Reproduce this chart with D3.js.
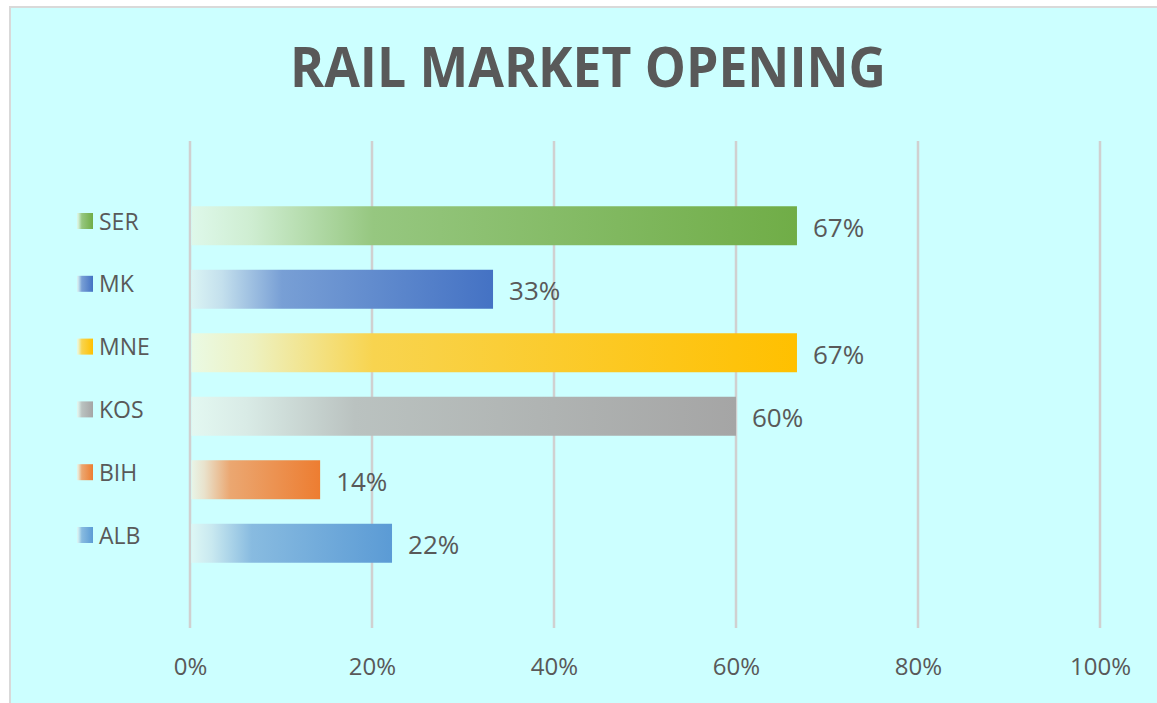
<!DOCTYPE html>
<html>
<head>
<meta charset="utf-8">
<script src="https://cdn.jsdelivr.net/npm/d3@7"></script>
<style>
  html, body { margin: 0; padding: 0; background: #ffffff; }
  svg { display: block; }
  text { font-family: "Open Sans", "DejaVu Sans", sans-serif; fill: #595959; }
</style>
</head>
<body>
<svg id="chart" width="1157" height="703"></svg>
<script>
// ---- data ----
const categories = ["SER", "MK", "MNE", "KOS", "BIH", "ALB"];
const values = [66.7, 33.3, 66.7, 60, 14.3, 22.2];
const valueLabels = ["67%", "33%", "67%", "60%", "14%", "22%"];
const colors = ["#70AD47", "#4472C4", "#FFC000", "#A5A5A5", "#ED7D31", "#5B9BD5"];
const tickValues = [0, 20, 40, 60, 80, 100];
const tickLabels = ["0%", "20%", "40%", "60%", "80%", "100%"];
const title = "RAIL MARKET OPENING";

const bg = "#CCFFFF";
const svg = d3.select("#chart");

// background panel with border
svg.append("rect")
  .attr("x", 10).attr("y", 7)
  .attr("width", 1160).attr("height", 710)
  .attr("fill", bg)
  .attr("stroke", "#D9D9D9")
  .attr("stroke-width", 2);

const x = d3.scaleLinear().domain([0, 100]).range([190, 1100]);
const y = d3.scaleBand().domain(categories).range([194, 575])
  .paddingInner(0.386).paddingOuter(0.193);
const legendY = d3.scalePoint().domain(categories).range([221, 535]);

// gradients (opaque, from background tint to full colour)
const defs = svg.append("defs");
categories.forEach((c, i) => {
  const g = defs.append("linearGradient")
    .attr("id", "grad" + i)
    .attr("x1", "0%").attr("x2", "100%").attr("y1", "0%").attr("y2", "0%");
  const mix = d3.interpolateRgb("#E8FFF8", colors[i]);
  [[0, 0.08], [0.1, 0.22], [0.3, 0.68], [1, 1]].forEach(([o, a]) => {
    g.append("stop").attr("offset", o).attr("stop-color", mix(a));
  });
});

// gridlines
svg.append("g")
  .selectAll("line")
  .data(tickValues)
  .join("line")
  .attr("x1", d => x(d)).attr("x2", d => x(d))
  .attr("y1", 141).attr("y2", 628)
  .attr("stroke", "#D0D0D0")
  .attr("stroke-width", 2.5);

// bars
svg.append("g")
  .selectAll("rect")
  .data(categories)
  .join("rect")
  .attr("x", x(0) + 1.5)
  .attr("y", d => y(d))
  .attr("width", (d, i) => x(values[i]) - x(0) - 1.5)
  .attr("height", y.bandwidth())
  .attr("fill", (d, i) => `url(#grad${i})`);

// value labels
svg.append("g")
  .selectAll("text")
  .data(categories)
  .join("text")
  .attr("x", (d, i) => x(values[i]) + 16)
  .attr("y", d => y(d) + y.bandwidth() / 2 + 11)
  .attr("font-size", 26)
  .text((d, i) => valueLabels[i]);

// x axis
const xAxis = d3.axisBottom(x).tickValues(tickValues)
  .tickFormat((d, i) => tickLabels[i]).tickSize(0).tickPadding(0);
const ax = svg.append("g").attr("transform", "translate(0,655)").call(xAxis);
ax.select(".domain").remove();
ax.selectAll("text")
  .attr("font-size", 24)
  .attr("font-family", "'Open Sans', sans-serif")
  .attr("fill", "#595959")
  .attr("dy", "0.85em");

// legend
const lg = svg.append("g");
lg.selectAll("rect")
  .data(categories)
  .join("rect")
  .attr("x", 77).attr("y", d => legendY(d) - 8)
  .attr("width", 16).attr("height", 16)
  .attr("fill", (d, i) => `url(#grad${i})`);
lg.selectAll("text")
  .data(categories)
  .join("text")
  .attr("x", 99).attr("y", d => legendY(d) + 8.5)
  .attr("font-size", 23)
  .text(d => d);

// title
svg.append("text")
  .attr("x", 588).attr("y", 87)
  .attr("text-anchor", "middle")
  .attr("font-size", 55)
  .attr("font-weight", "bold")
  .attr("textLength", 596)
  .attr("lengthAdjust", "spacingAndGlyphs")
  .text(title);
</script>
</body>
</html>
